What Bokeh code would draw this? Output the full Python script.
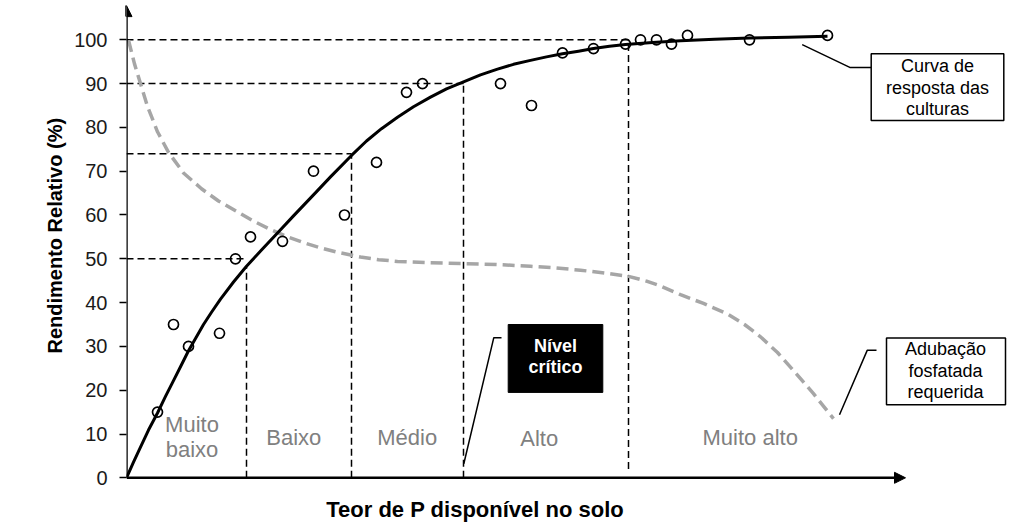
from bokeh.plotting import figure
from bokeh.models import Range1d, FixedTicker, Arrow, NormalHead, Title
from bokeh.core.properties import value
from bokeh.embed import file_html
from bokeh.resources import INLINE

# ---------------- data ----------------
# observed points: P content (arbitrary units) and relative yield (%)
obs_p = [3.1, 4.7, 6.2, 9.3, 10.9, 12.4, 15.6, 18.7, 21.8, 25.0, 28.0, 29.6,
         37.4, 40.5, 43.6, 46.7, 49.9, 51.4, 53.0, 54.5, 56.1, 62.3, 70.1]
obs_y = [15, 35, 30, 33, 50, 55, 54, 70, 60, 72, 88, 90,
         90, 85, 97, 98, 99, 100, 100, 99, 101, 100, 101]

# crop response curve
curve_p = [0, 0.7, 1.4, 2.2, 3.1, 3.9, 4.7, 5.5, 6.2, 7.0, 7.7, 8.5, 9.4, 10.7,
           12.0, 13.5, 15.1, 16.7, 18.7, 20.4, 22.5, 24.0, 25.5, 27.1, 28.7,
           30.4, 32.0, 33.7, 35.4, 37.1, 38.7, 40.4, 42.0, 43.6, 45.2, 46.7,
           48.3, 49.9, 52.6, 55.4, 58.8, 62.3, 66.2, 70.1]
curve_y = [0, 3.6, 7.0, 10.9, 14.8, 18.6, 22.2, 25.8, 29.0, 32.2, 35.0, 37.8, 40.8, 44.7,
           48.3, 52.0, 55.9, 59.8, 64.6, 68.7, 73.6, 76.9, 79.7, 82.3, 84.7,
           86.9, 88.8, 90.4, 92.0, 93.3, 94.4, 95.3, 96.1, 96.8, 97.4, 98.0,
           98.5, 98.9, 99.4, 99.8, 100.1, 100.4, 100.6, 100.8]

# required phosphate fertilization curve
fert_p = [0.2, 0.8, 1.4, 2.1, 3.1, 4.2, 5.7, 7.5, 9.2, 11.1, 12.7, 14.4, 16.0,
          17.7, 19.4, 21.1, 23.4, 25.2, 27.1, 30.4, 33.7, 37.0, 40.4, 43.0,
          45.4, 48.0, 50.2, 52.0, 53.4, 55.4, 57.7, 60.1, 61.8, 63.4, 65.1,
          66.7, 68.7, 70.7]
fert_y = [99.9, 94.5, 90.0, 84.8, 79.0, 74.3, 69.6, 66.0, 63.2, 60.7, 58.6, 56.7, 55.1,
          53.7, 52.5, 51.5, 50.4, 49.8, 49.4, 49.1, 48.9, 48.7, 48.3, 47.9,
          47.4, 46.7, 46.0, 44.9, 43.8, 41.8, 39.8, 37.4, 35.0, 32.2, 28.6,
          24.5, 19.2, 13.5]

# class limits (P content) and the yield reached at each limit
limit_p = [12.0, 22.5, 33.7, 50.2]
limit_y = [50, 74, 90, 100]
limit_curve_y = [48.3, 73.8, 90, 100]

class_names = ["Baixo", "Médio", "Alto", "Muito alto"]
y_ticks = [0, 10, 20, 30, 40, 50, 60, 70, 80, 90, 100]

# ---------------- figure ----------------
FONT = value("Liberation Sans")
p = figure(width=1015, height=524, output_backend="svg", toolbar_location=None,
           x_range=Range1d(0, 88.9), y_range=Range1d(-10.66, 108.97),
           min_border_left=126, min_border_right=0, min_border_top=0,
           min_border_bottom=0)
p.outline_line_color = None
p.grid.visible = False
p.xaxis.visible = False
p.background_fill_color = "white"

ya = p.yaxis[0]
ya.ticker = FixedTicker(ticks=y_ticks)
ya.bounds = (0, 100)
ya.axis_line_color = None
ya.major_tick_out = 7
ya.major_tick_in = 0
ya.major_tick_line_width = 1.5
ya.major_tick_line_color = "black"
ya.minor_tick_line_color = None
ya.major_label_text_font = "Liberation Sans"
ya.major_label_text_font_size = "20px"
ya.major_label_text_color = "#1a1a1a"
ya.major_label_standoff = 12

# y axis title (vertical, left of the tick labels)
p.add_layout(Title(text="Rendimento Relativo (%)", align="left", offset=171,
                   standoff=12, text_font="Liberation Sans", text_font_size="20px",
                   text_font_style="bold", text_color="black"), "left")

# dashed reference lines
dash = dict(line_color="black", line_width=1.5, line_dash="7 4")
p.segment(x0=[0] * 4, y0=limit_y, x1=limit_p, y1=limit_y, **dash)
p.segment(x0=limit_p, y0=[0, 0, 0, 2], x1=limit_p, y1=limit_curve_y, **dash)

# fertilization curve
p.line(fert_p, fert_y, line_color="#a6a6a6", line_width=3.5, line_dash="12 6",
       line_join="round")

# response curve
p.line(curve_p, curve_y, line_color="black", line_width=3, line_join="round")

# observations
p.scatter(obs_p, obs_y, size=10, marker="circle", fill_color=None,
          line_color="black", line_width=1.7)

# class labels
p.text(x=[6.55, 6.55], y=[12.2, 6.5], text=["Muito", "baixo"], text_font=FONT,
       text_font_size="22px", text_color="#808080", text_align="center",
       text_baseline="alphabetic")
p.text(x=[16.73, 28.07, 41.27, 62.37], y=[9.2, 9.2, 9.0, 9.2], text=class_names,
       text_font=FONT, text_font_size="22px", text_color="#808080",
       text_align="center", text_baseline="alphabetic")

# callout lines
call = dict(line_color="black", line_width=1.5)
p.line([33.73, 36.73, 37.5], [3.2, 32.0, 32.0], **call)
p.line([67.57, 72.33, 74.47], [98.9, 93.7, 93.7], **call)
p.line([71.3, 74.07, 75.0], [14.4, 29.1, 29.1], **call)

# boxes
p.quad(left=[38.17], right=[47.63], bottom=[19.5], top=[35.0],
       fill_color="black", line_color="black")
p.quad(left=[74.47, 76.0], right=[87.73, 87.9], bottom=[81.6, 16.7], top=[96.8, 31.9],
       fill_color="white", line_color="black", line_width=1.5)

p.text(x=[42.9, 42.9], y=[30.0, 25.3], text=["Nível", "crítico"], text_font=FONT,
       text_font_size="18px", text_font_style="bold", text_color="white",
       text_align="center", text_baseline="alphabetic")
p.text(x=[81.1] * 3, y=[94.0, 89.0, 84.1], text=["Curva de", "resposta das", "culturas"],
       text_font=FONT, text_font_size="18px", text_color="black",
       text_align="center", text_baseline="alphabetic")
p.text(x=[81.9] * 3, y=[29.3, 24.3, 19.5], text=["Adubação", "fosfatada", "requerida"],
       text_font=FONT, text_font_size="18px", text_color="black",
       text_align="center", text_baseline="alphabetic")

# x axis title (below the axis arrow)
p.text(x=[34.87], y=[-7.2], text=["Teor de P disponível no solo"], text_font=FONT,
       text_font_size="22px", text_font_style="bold", text_color="black",
       text_align="center", text_baseline="alphabetic")

# axes with arrows
head = dict(size=11, fill_color="black", line_color="black", line_width=1)
p.add_layout(Arrow(end=NormalHead(**head), x_start=0, y_start=0, x_end=77.9, y_end=0,
                   line_width=2.5, line_color="black"))
p.add_layout(Arrow(end=NormalHead(**head), x_start=0, y_start=0, x_end=0, y_end=107.8,
                   line_width=2.5, line_color="black"))

open("out.html", "w").write(file_html(p, INLINE))
